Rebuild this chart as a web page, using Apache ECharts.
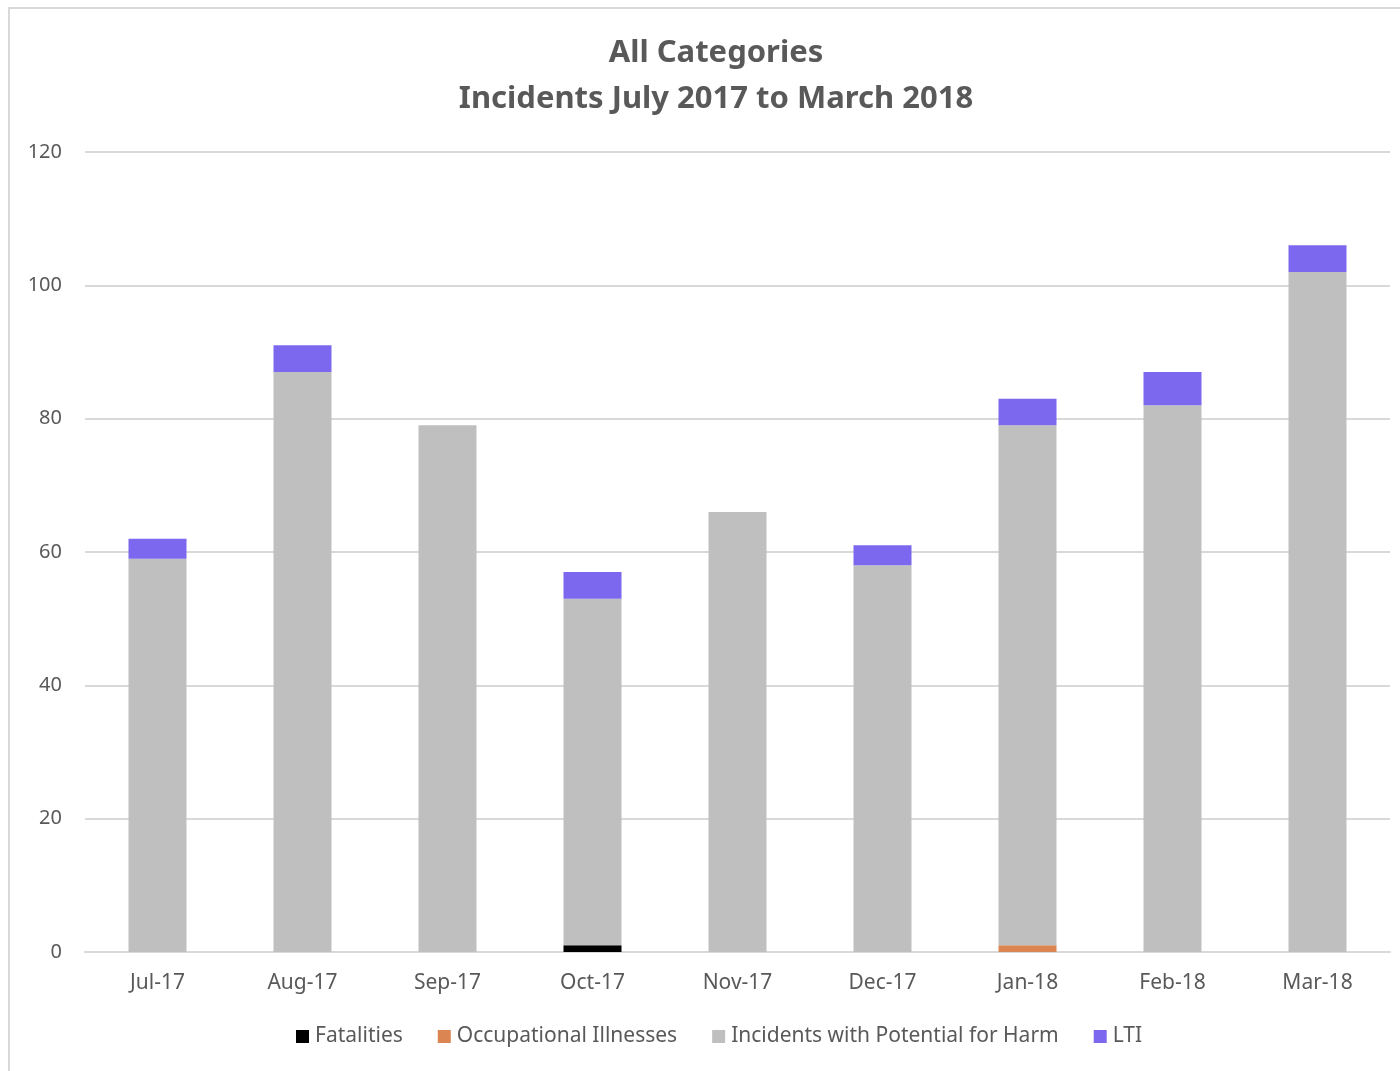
<!DOCTYPE html>
<html>
<head>
<meta charset="utf-8">
<script src="https://cdn.jsdelivr.net/npm/echarts@6/dist/echarts.min.js"></script>
<style>
html,body{margin:0;padding:0;background:#fff;overflow:hidden;}
#frame{position:absolute;left:8px;top:7px;width:1400px;height:1070px;border:2px solid #d9d9d9;box-sizing:border-box;}
#chart{position:absolute;left:0;top:0;width:1400px;height:1071px;}
</style>
</head>
<body>
<div id="frame"></div>
<div id="chart"></div>
<script>
var categories = ['Jul-17','Aug-17','Sep-17','Oct-17','Nov-17','Dec-17','Jan-18','Feb-18','Mar-18'];
var fatalities = [0,0,0,1,0,0,0,0,0];
var occupationalIllnesses = [0,0,0,0,0,0,1,0,0];
var incidentsPotentialHarm = [59,87,79,52,66,58,78,82,102];
var lti = [3,4,0,4,0,3,4,5,4];
var yTicks = [0,20,40,60,80,100,120];

var font = 'Noto Sans';
var chart = echarts.init(document.getElementById('chart'));
function mk(name, data, color){
  return {name:name,type:'bar',stack:'total',data:data,barWidth:58,
    itemStyle:{color:color},emphasis:{disabled:true}};
}
chart.setOption({
  animation:false,
  title:{
    text:'All Categories\nIncidents July 2017 to March 2018',
    left:711, textAlign:'center', top:25,
    textStyle:{fontFamily:font,fontSize:31,fontWeight:'bold',color:'#595959',lineHeight:46}
  },
  legend:{
    bottom:19,left:291,itemWidth:13,itemHeight:13,itemGap:35,icon:'rect',
    textStyle:{fontFamily:font,fontSize:21,color:'#595959',padding:[0,0,0,1]},
    data:['Fatalities','Occupational Illnesses','Incidents with Potential for Harm','LTI']
  },
  grid:{left:85,right:10,top:152,bottom:119,containLabel:false},
  xAxis:{
    type:'category',data:categories,
    axisLine:{lineStyle:{color:'#d9d9d9',width:2}},
    axisTick:{show:false},
    axisLabel:{fontFamily:font,fontSize:21,color:'#595959',margin:21}
  },
  yAxis:{
    type:'value',min:yTicks[0],max:yTicks[yTicks.length-1],interval:20,
    axisLine:{show:false},axisTick:{show:false},
    splitLine:{lineStyle:{color:'#d9d9d9',width:2}},
    axisLabel:{fontFamily:font,fontSize:20,color:'#595959',margin:23}
  },
  series:[
    mk('Fatalities',fatalities,'#000000'),
    mk('Occupational Illnesses',occupationalIllnesses,'#DA8552'),
    mk('Incidents with Potential for Harm',incidentsPotentialHarm,'#BFBFBF'),
    mk('LTI',lti,'#7B68EE')
  ]
});
</script>
</body>
</html>
